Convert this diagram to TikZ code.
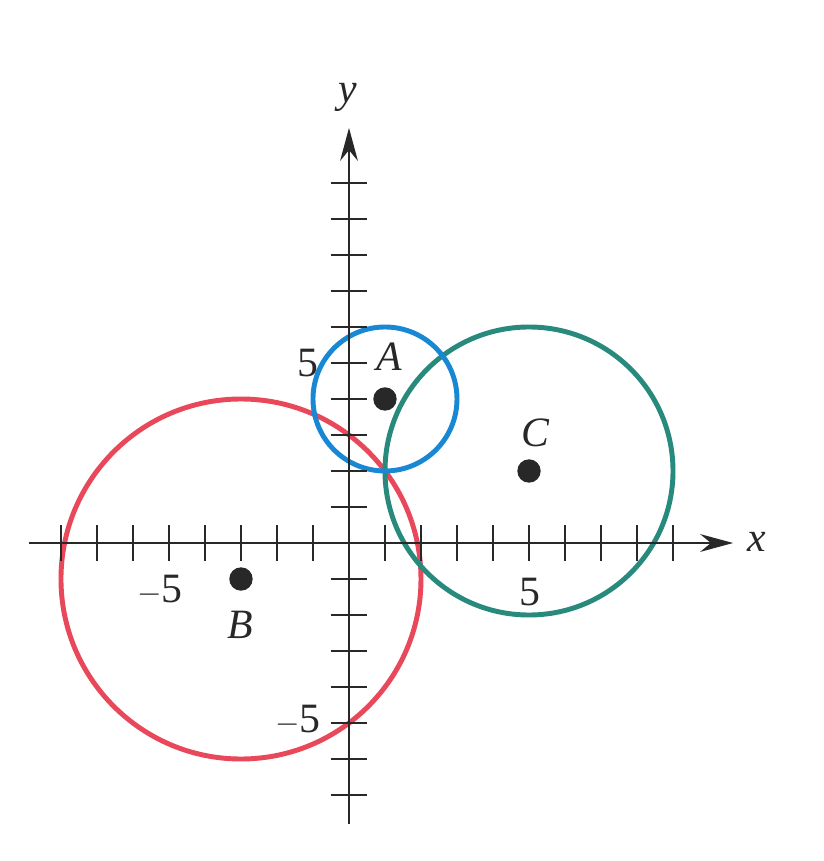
\documentclass[tikz,border=0pt]{standalone}
\usepackage{fontspec}
\setmainfont{Liberation Serif}
\usetikzlibrary{arrows.meta}
\definecolor{cred}{RGB}{232,72,90}
\definecolor{cblue}{RGB}{24,136,212}
\definecolor{cgreen}{RGB}{40,138,124}
\definecolor{cink}{RGB}{40,40,40}
\tikzset{
  axis/.style={draw=cink,line width=2.1pt,-{Stealth[length=26pt,width=14pt]}},
  tick/.style={draw=cink,line width=2pt},
  ring/.style={line width=3.9pt},
  dot/.style={circle,fill=cink,inner sep=0pt,minimum size=0.65cm},
  lbl/.style={font=\fontsize{33}{37}\selectfont,text=cink,inner sep=0pt},
  ilbl/.style={font=\fontsize{33}{37}\selectfont\itshape,text=cink,inner sep=0pt},
}
\begin{document}
\begin{tikzpicture}
\useasboundingbox[fill=white] (-9.694,-8.833) rectangle (13.167,15.083);
\coordinate (O) at (0,0);
\coordinate (xl) at (-8.9,0);
\coordinate (xr) at (10.67,0);
\coordinate (yb) at (0,-7.8);
\coordinate (yt) at (0,11.53);
\coordinate (Ac) at (1,4);
\coordinate (Bc) at (-3,-1);
\coordinate (Cc) at (5,2);
% circles
\draw[ring,cred] (Bc) circle (5);
\draw[ring,cgreen] (Cc) circle (4);
\draw[ring,cblue] (Ac) circle (2);
% axes
\draw[axis] (xl) -- (xr);
\draw[axis] (yb) -- (yt);
\foreach \i in {-8,...,-1,1,2,...,9} \draw[tick] (\i,-0.5) -- (\i,0.5);
\foreach \j in {-7,...,-1,1,2,...,10} \draw[tick] (-0.5,\j) -- (0.5,\j);
% labels
\node[ilbl] (ylab) at (-0.03,12.39) {y};
\node[ilbl] (xlab) at (11.33,0.03) {x};
\node[lbl] (y5) at (-1.14,5.0) {5};
\node[lbl] (xm5) at (-5.25,-1.31) {$-$5};
\node[lbl] (x5) at (5.03,-1.36) {5};
\node[lbl] (ym5) at (-1.42,-4.92) {$-$5};
% points
\node[dot] (A) at (Ac) {};
\node[dot] (B) at (Bc) {};
\node[dot] (C) at (Cc) {};
\node[ilbl] (Alab) at (1.11,5.17) {A};
\node[ilbl] (Blab) at (-3.03,-2.28) {B};
\node[ilbl] (Clab) at (5.17,3.06) {C};
\end{tikzpicture}
\end{document}
